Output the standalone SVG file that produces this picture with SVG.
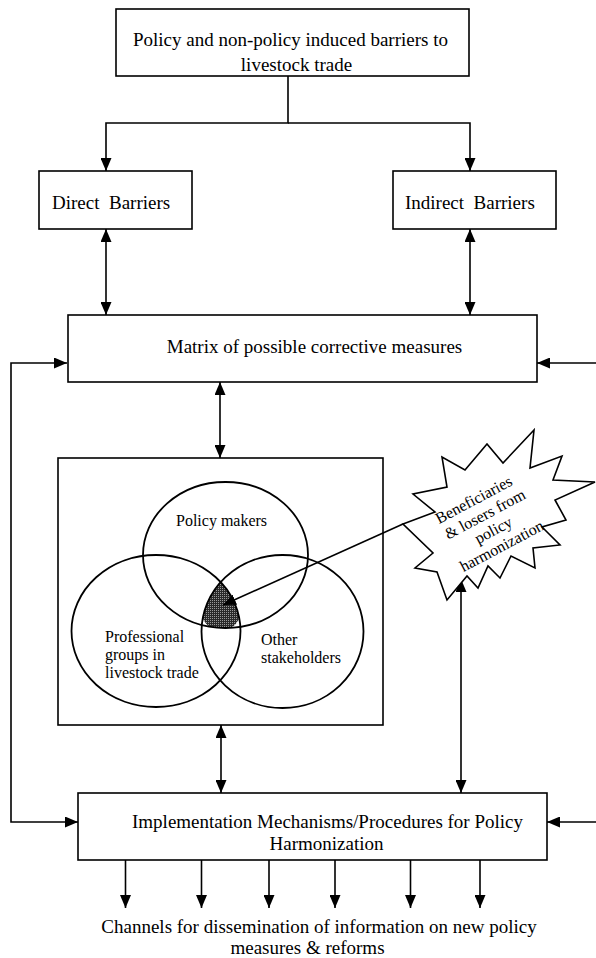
<svg xmlns="http://www.w3.org/2000/svg" width="596" height="958" viewBox="0 0 596 958">
<style>
.box{fill:#fff;stroke:#000;stroke-width:1.6}
.ln{fill:none;stroke:#000;stroke-width:1.6}
.t{font-family:"Liberation Serif","Times New Roman",serif;font-size:19px;fill:#000}
.s{font-family:"Liberation Serif","Times New Roman",serif;font-size:16px;fill:#000}
.c{fill:none;stroke:#000;stroke-width:1.8}
</style>
<defs>
<marker id="ah" viewBox="0 0 13 11" refX="13" refY="5.5" markerWidth="13" markerHeight="11" markerUnits="userSpaceOnUse" orient="auto-start-reverse">
<path d="M0,0 L13,5.5 L0,11 z" fill="#000"/>
</marker>
<pattern id="hatch" width="2" height="2" patternUnits="userSpaceOnUse">
<rect width="2" height="2" fill="#2a2a2a"/>
<rect width="1" height="1" fill="#9a9a9a"/>
</pattern>
<clipPath id="cPol"><ellipse cx="225.5" cy="555" rx="82.5" ry="73"/></clipPath>
<clipPath id="cProf"><ellipse cx="156" cy="631" rx="84.5" ry="76"/></clipPath>
<clipPath id="cOth"><ellipse cx="282.5" cy="631.5" rx="81" ry="76.5"/></clipPath>
</defs>

<g id="connectors">
<path class="ln" d="M288,76 V123 H106 V171" marker-end="url(#ah)"/>
<path class="ln" d="M288,123 H470 V171" marker-end="url(#ah)"/>
<path class="ln" d="M106,229 V315" marker-start="url(#ah)" marker-end="url(#ah)"/>
<path class="ln" d="M470,229 V315" marker-start="url(#ah)" marker-end="url(#ah)"/>
<path class="ln" d="M67,363 H11 V822 H78" marker-start="url(#ah)" marker-end="url(#ah)"/>
<path class="ln" d="M596,363 H537" marker-end="url(#ah)"/>
<path class="ln" d="M596,822 H547" marker-end="url(#ah)"/>
<path class="ln" d="M220,382 V458" marker-start="url(#ah)" marker-end="url(#ah)"/>
<path class="ln" d="M221,725 V793" marker-start="url(#ah)" marker-end="url(#ah)"/>
<path class="ln" d="M461,579 V793" marker-start="url(#ah)" marker-end="url(#ah)"/>
<path class="ln" d="M125.5,860 V908" marker-end="url(#ah)"/>
<path class="ln" d="M201.5,860 V908" marker-end="url(#ah)"/>
<path class="ln" d="M269,860 V908" marker-end="url(#ah)"/>
<path class="ln" d="M335,860 V908" marker-end="url(#ah)"/>
<path class="ln" d="M410.5,860 V908" marker-end="url(#ah)"/>
<path class="ln" d="M480,860 V908" marker-end="url(#ah)"/>
</g>

<g id="top-barriers">
<rect class="box" x="116" y="9" width="353" height="67"/>
<text class="t" x="290.5" y="46" text-anchor="middle">Policy and non-policy induced barriers to</text>
<text class="t" x="296.5" y="71" text-anchor="middle">livestock trade</text>
</g>

<g id="direct-barriers">
<rect class="box" x="39" y="171" width="153" height="58"/>
<text class="t" x="52" y="209" xml:space="preserve">Direct  Barriers</text>
</g>

<g id="indirect-barriers">
<rect class="box" x="393" y="171" width="163" height="58"/>
<text class="t" x="405" y="209" xml:space="preserve">Indirect  Barriers</text>
</g>

<g id="matrix">
<rect class="box" x="68" y="315" width="469" height="67"/>
<text class="t" x="314.5" y="353" text-anchor="middle">Matrix of possible corrective measures</text>
</g>

<g id="stakeholder-venn">
<rect class="box" x="58" y="458" width="325" height="267"/>
<g clip-path="url(#cOth)"><g clip-path="url(#cProf)">
<ellipse cx="221" cy="606" rx="21" ry="25" fill="url(#hatch)" clip-path="url(#cPol)"/>
</g></g>
<ellipse class="c" cx="225.5" cy="555" rx="82.5" ry="73"/>
<ellipse class="c" cx="156" cy="631" rx="84.5" ry="76"/>
<ellipse class="c" cx="282.5" cy="631.5" rx="81" ry="76.5"/>
<text class="s" x="176" y="526">Policy makers</text>
<text class="s" x="105" y="642">Professional</text>
<text class="s" x="105" y="660">groups in</text>
<text class="s" x="105" y="678">livestock trade</text>
<text class="s" x="261" y="645">Other</text>
<text class="s" x="261" y="663">stakeholders</text>
</g>

<g id="pointer">
<path class="ln" d="M403,524 L223,605" marker-end="url(#ah)"/>
</g>

<g id="beneficiaries-burst">
<polygon fill="#fff" stroke="#000" stroke-width="1.6" stroke-linejoin="miter" points="403,524 435,512 413,494 447,487 442,457 465,470 487,444 503,463 534,430 530,468 562,456 553,480 595,482 555,500 566,520 542,527 560,545 533,548 535,568 511,556 500,578 488,566 478,588 467,576 447,600 437,572 415,568 433,553"/>
<g transform="translate(476.3,504.4) rotate(-28)">
<text class="s" x="0" y="0" text-anchor="middle">Beneficiaries</text>
<text class="s" x="3" y="18" text-anchor="middle">&amp; losers from</text>
<text class="s" x="3" y="36" text-anchor="middle">policy</text>
<text class="s" x="3" y="54" text-anchor="middle">harmonization</text>
</g>
</g>

<g id="implementation">
<rect class="box" x="78" y="793" width="469" height="67"/>
<text class="t" x="327.5" y="828" text-anchor="middle">Implementation Mechanisms/Procedures for Policy</text>
<text class="t" x="326.5" y="850" text-anchor="middle">Harmonization</text>
</g>

<g id="channels">
<text class="t" x="319" y="933" text-anchor="middle">Channels for dissemination of information on new policy</text>
<text class="t" x="307.5" y="954" text-anchor="middle">measures &amp; reforms</text>
</g>
</svg>
